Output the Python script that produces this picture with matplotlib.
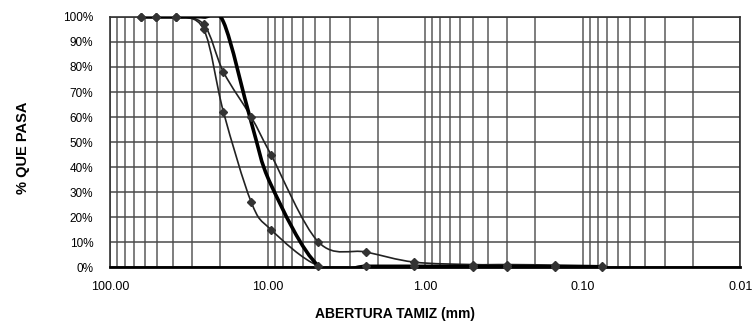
import numpy as np
import matplotlib
matplotlib.use('Agg')
import matplotlib.pyplot as plt
from matplotlib.path import Path
from matplotlib.patches import PathPatch

plt.rcParams['font.family'] = ['Liberation Sans', 'DejaVu Sans']

# abertura de tamices (mm)
tamiz = [63.5, 50.8, 38.1, 25.4, 19.05, 12.7, 9.525, 4.75, 2.36, 1.18, 0.5, 0.3, 0.15, 0.075]

# % que pasa
curva_inf = [100, 100, 100, 95, 62, 26, 15, 0.5, 0.3, 0.3, 0.2, 0.2, 0.1, 0.1]
curva_muestra = [100, 100, 100, 100, 98, 58, 33, 0.5, 0.3, 0.3, 0.2, 0.2, 0.1, 0.1]
curva_sup = [100, 100, 100, 97, 78, 60, 45, 10, 6, 2, 1, 1, 0.8, 0.5]

xticks = [100, 10, 1, 0.1, 0.01]
xtick_labels = ['100.00', '10.00', '1.00', '0.10', '0.01']
yticks = np.arange(0, 101, 10)
ytick_labels = ['%d%%' % v for v in yticks]


def curva_suave(ax, x, y, **kw):
    # linea suavizada tipo Excel (bezier en espacio log)
    u = np.log10(np.array(x, dtype=float))
    v = np.array(y, dtype=float)
    P = np.column_stack([u, v])
    n = len(P)
    verts = [P[0]]
    codes = [Path.MOVETO]
    for i in range(n - 1):
        p0 = P[i - 1] if i > 0 else P[i]
        p3 = P[i + 2] if i + 2 < n else P[i + 1]
        c1 = P[i] + (P[i + 1] - p0) / 6.0
        c2 = P[i + 1] - (p3 - P[i]) / 6.0
        verts += [c1, c2, P[i + 1]]
        codes += [Path.CURVE4] * 3
    verts = np.array(verts)
    verts[:, 0] = 10 ** verts[:, 0]
    patch = PathPatch(Path(verts, codes), facecolor='none', **kw)
    patch.set_clip_on(True)
    ax.add_patch(patch)
    return patch


fig = plt.figure(figsize=(7.52, 3.33), dpi=100)
ax = fig.add_axes([0.1463, 0.198, 0.838, 0.751])
ax.set_xscale('log')
ax.set_xlim(100, 0.01)
ax.set_ylim(0, 100)

ax.grid(True, which='both', axis='x', color='#5a5a5a', lw=1.1)
ax.grid(True, which='major', axis='y', color='#4a4a4a', lw=1.1)
ax.set_axisbelow(True)

curva_suave(ax, tamiz, curva_inf, edgecolor='#222222', lw=1.2, zorder=3)
curva_suave(ax, tamiz, curva_sup, edgecolor='#222222', lw=1.2, zorder=3)
curva_suave(ax, tamiz, curva_muestra, edgecolor='black', lw=2.6, zorder=4)
ax.plot(tamiz, curva_inf, ls='none', marker='D', ms=4, color='#333333', zorder=5, clip_on=False)
ax.plot(tamiz, curva_sup, ls='none', marker='D', ms=4, color='#333333', zorder=5, clip_on=False)

ax.set_xticks(xticks)
ax.set_xticklabels(xtick_labels, fontsize=9)
ax.xaxis.set_minor_formatter(plt.NullFormatter())
ax.set_yticks(yticks)
ax.set_yticklabels(ytick_labels, fontsize=8.5)
ax.tick_params(which='both', length=0)
ax.tick_params(axis='x', pad=10)
ax.tick_params(axis='y', pad=12)

for s in ax.spines.values():
    s.set_color('#333333')
    s.set_linewidth(1.2)
ax.spines['bottom'].set_linewidth(2)
ax.spines['bottom'].set_color('black')

fig.text(0.03, 0.555, '% QUE PASA', fontsize=10.5, fontweight='bold', rotation=90, ha='center', va='center')
fig.text(0.525, 0.045, 'ABERTURA TAMIZ (mm)', fontsize=10, fontweight='bold', ha='center')

fig.savefig('out.png', dpi=100)
